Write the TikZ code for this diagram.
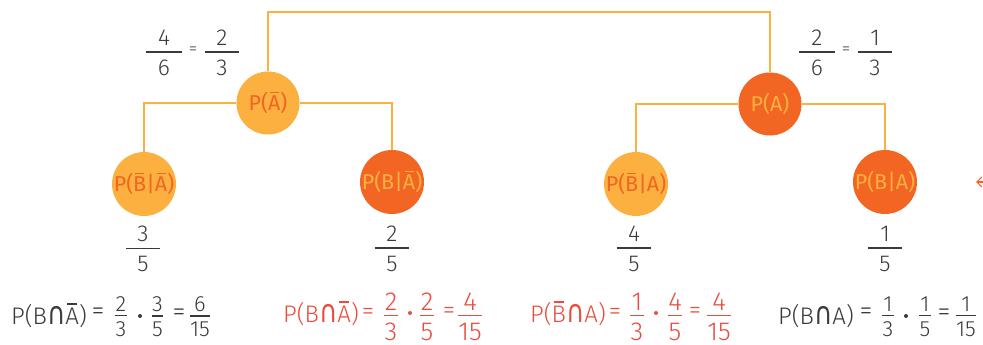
\documentclass[tikz,border=0pt]{standalone}
\usepackage{graphicx}
\usepackage{fontspec}
\setmainfont{Fira Sans Light}[Numbers=Proportional]
\newfontfamily\circfont{Fira Sans}
\newfontfamily\symfont{DejaVu Sans}
\usetikzlibrary{arrows.meta}
\definecolor{lightO}{HTML}{FBB040}
\definecolor{darkO}{HTML}{F26522}
\definecolor{redT}{HTML}{E84C3D}
\definecolor{grayT}{HTML}{3A3A3A}
\newcommand\ob[1]{\ooalign{#1\cr\hidewidth\rule[0.8em]{0.42em}{0.055em}\hidewidth\cr}}
\newcommand\capsym{\scalebox{1.05}[1.3]{\symfont ∩}}
% generic fraction: pad, gap above bar, gap below bar, numerator, denominator
\newcommand\frgen[5]{\ensuremath{\vcenter{\offinterlineskip\halign{\hfil\kern#1##\kern#1\hfil\cr #4\cr\noalign{\kern#2\hrule height 0.06em\kern#3}#5\cr}}}}
\newcommand\frt[2]{\frgen{0.5em}{0.25em}{0.33em}{#1}{#2}}
\newcommand\fre[2]{\frgen{0.5pt}{0.15em}{0.26em}{#1}{#2}}
\newcommand\fs[1]{\fontsize{#1}{#1}\selectfont}
\begin{document}
\begin{tikzpicture}[x=1pt,y=-1pt,
  conn/.style={lightO, line width=1.5pt},
  lightc/.style={circle, fill=lightO, minimum size=63pt, inner sep=0pt, text=darkO, font=\circfont\fs{21.5}},
  darkc/.style={circle, fill=darkO, minimum size=63pt, inner sep=0pt, text=lightO, font=\circfont\fs{21.5}},
  topfrac/.style={inner sep=0pt, text=grayT, font=\fs{23}},
  topeq/.style={inner sep=0pt, text=grayT, font=\fs{17}},
  grayP/.style={inner sep=0pt, text=grayT, font=\fs{24}, anchor=base west},
  redP/.style={inner sep=0pt, text=redT, font=\fs{24}, anchor=base west},
  grayfr/.style={inner sep=0pt, text=grayT, font=\fs{22}},
  redfr/.style={inner sep=0pt, text=redT, font=\fs{26}},
  grayeq/.style={inner sep=0pt, text=grayT, font=\fs{26}},
  redeq/.style={inner sep=0pt, text=redT, font=\fs{25}},
  graydot/.style={circle, fill=grayT, minimum size=4pt, inner sep=0pt},
  reddot/.style={circle, fill=redT, minimum size=4pt, inner sep=0pt}]
\useasboundingbox (0,0) rectangle (983,345);
% circles
\node[lightc] (pnA) at (268,103) {P(\ob{A})};
\node[darkc] (pA) at (770,104) {P(A)};
\node[lightc] (l1) at (144,184) {P(\ob{B}|\ob{A})};
\node[darkc] (l2) at (392,182) {P(B|\ob{A})};
\node[lightc] (l3) at (636,184) {P(\ob{B}|A)};
\node[darkc] (l4) at (885,182) {P(B|A)};
% connectors
\coordinate (topbar) at (0,12);
\draw[conn] (pnA.north) -- (pnA.north |- topbar) -| (pA.north);
\draw[conn] (pnA.west) -| (l1.north);
\draw[conn] (pnA.east) -| (l2.north);
\draw[conn] (pA.west) -| (l3.north);
\draw[conn] (pA.east) -| (l4.north);
% top fractions
\node[topfrac] (f46) at (164,53) {\frt{4}{6}};
\node[topeq] (f46eq) at (193,51) {=};
\node[topfrac] (f23) at (222,53) {\frt{2}{3}};
\node[topfrac] (f26) at (817,53) {\frt{2}{6}};
\node[topeq] (f26eq) at (846,51) {=};
\node[topfrac] (f13) at (875,53) {\frt{1}{3}};
% leaf fractions
\node[topfrac] (fl1) at (143,249) {\frt{3}{5}};
\node[topfrac] (fl2) at (392,249) {\frt{2}{5}};
\node[topfrac] (fl3) at (634,249) {\frt{4}{5}};
\node[topfrac] (fl4) at (885,249) {\frt{1}{5}};
% equation 1 (gray)
\node[grayP] (e1p) at (11,324) {P(B\capsym\ob{A})};
\node[grayeq] (e1q1) at (98,314) {=};
\node[grayfr] (e1f1) at (121,317) {\fre{2}{3}};
\node[graydot] (e1d) at (140,316) {};
\node[grayfr] (e1f2) at (157.5,317) {\fre{3}{5}};
\node[grayeq] (e1q2) at (179,315) {=};
\node[grayfr] (e1f3) at (200,317) {\fre{6}{15}};
% equation 2 (red)
\node[redP] (e2p) at (283,322) {P(B\capsym\ob{A})};
\node[redeq] (e2q1) at (368,314) {=};
\node[redfr] (e2f1) at (391,317) {\fre{2}{3}};
\node[reddot] (e2d) at (410,313) {};
\node[redfr] (e2f2) at (427,317) {\fre{2}{5}};
\node[redeq] (e2q2) at (449,313) {=};
\node[redfr] (e2f3) at (470,317) {\fre{4}{15}};
% equation 3 (red)
\node[redP] (e3p) at (530,322) {P(\ob{B}\capsym A)};
\node[redeq] (e3q1) at (615,314) {=};
\node[redfr] (e3f1) at (637,317) {\fre{1}{3}};
\node[reddot] (e3d) at (656,313) {};
\node[redfr] (e3f2) at (675,317) {\fre{4}{5}};
\node[redeq] (e3q2) at (695,313) {=};
\node[redfr] (e3f3) at (719,317) {\fre{4}{15}};
% equation 4 (gray)
\node[grayP] (e4p) at (778,324) {P(B\capsym A)};
\node[grayeq] (e4q1) at (866,314) {=};
\node[grayfr] (e4f1) at (888,317) {\fre{1}{3}};
\node[graydot] (e4d) at (906,316) {};
\node[grayfr] (e4f2) at (925,317) {\fre{1}{5}};
\node[grayeq] (e4q2) at (944,315) {=};
\node[grayfr] (e4f3) at (966,317) {\fre{1}{15}};
% partial arrow at right edge
\coordinate (arrS) at (996,182);
\coordinate (arrT) at (976,182);
\draw[darkO, line width=1.2pt, -{Straight Barb[length=5pt,width=10pt]}] (arrS) -- (arrT);
\end{tikzpicture}
\end{document}
